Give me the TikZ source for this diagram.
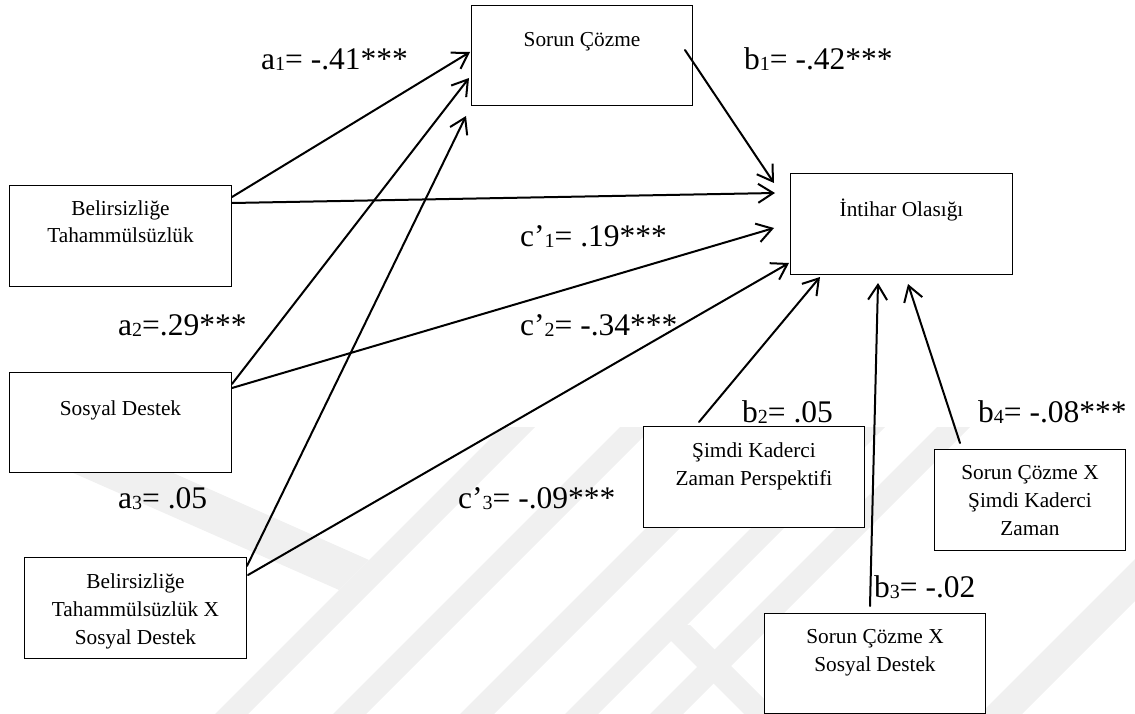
\documentclass[tikz,border=0pt]{standalone}
\usepackage{fontspec}
\setmainfont{Liberation Serif}
\usetikzlibrary{arrows.meta,calc}
% small index digit that sits on the baseline
\newcommand\lowdigit[1]{\raisebox{-1pt}{\fontsize{20}{20}\selectfont #1}}
% centred multi-line text whose baseline is the first line
\newcommand\lines[1]{\begin{tabular}[t]{@{}c@{}}#1\end{tabular}}

\begin{document}
\begin{tikzpicture}[x=1pt,y=-1pt,
  box/.style={draw,line width=1pt,fill=white,inner sep=0pt,anchor=north west},
  boxtext/.style={anchor=base,inner sep=0pt,font=\fontsize{21.3}{28}\selectfont},
  coef/.style={anchor=base west,inner sep=0pt,font=\fontsize{31.5}{32}\selectfont},
  link/.style={line width=2pt,line cap=round,-{Straight Barb[length=15pt,width=19pt]}},
  band/.style={fill=black!6,draw=none}]

\useasboundingbox (0,0) rectangle (1135,714);

% faint background emblem
\begin{scope}
  \clip (0,427) rectangle (1135,714);
  \foreach \x/\w in {215/33,333/33,460/34,565/33,650/33,980/42}
    \fill[band] (\x,714) -- ({\x+\w},714) -- ({\x+\w+300},414) -- ({\x+300},414) -- cycle;
  \fill[band] (71,472) -- (171,472) -- (369,560) -- (339,590) -- cycle;
  \fill[band] (655,625) -- (690,625) -- (779,714) -- (744,714) -- cycle;
\end{scope}

% boxes
\node[box,minimum width=221pt,minimum height=100pt] (SC)   at (471,5)   {};
\node[box,minimum width=222pt,minimum height=101pt] (BT)   at (9,185)   {};
\node[box,minimum width=222pt,minimum height=101pt] (IO)   at (790,173) {};
\node[box,minimum width=222pt,minimum height=100pt] (SD)   at (9,372)   {};
\node[box,minimum width=222pt,minimum height=101pt] (BTX)  at (24,557)  {};
\node[box,minimum width=221pt,minimum height=101pt] (SK)   at (643,426) {};
\node[box,minimum width=191pt,minimum height=101pt] (SCSK) at (934,449) {};
\node[box,minimum width=221pt,minimum height=100pt] (SCSD) at (764,613) {};

% box texts
\node[boxtext] (tSC)   at ($(SC.north)+(0,42)$)   {Sorun Çözme};
\node[boxtext] (tBT)   at ($(BT.north)+(0,30)$)   {\lines{Belirsizliğe\\Tahammülsüzlük}};
\node[boxtext] (tIO)   at ($(IO.north)+(0,44)$)   {İntihar Olasığı};
\node[boxtext] (tSD)   at ($(SD.north)+(0,43)$)   {Sosyal Destek};
\node[boxtext] (tBTX)  at ($(BTX.north)+(0,31)$)  {\lines{Belirsizliğe\\Tahammülsüzlük X\\Sosyal Destek}};
\node[boxtext] (tSK)   at ($(SK.north)+(0,31)$)   {\lines{Şimdi Kaderci\\Zaman Perspektifi}};
\node[boxtext] (tSCSK) at ($(SCSK.north)+(0,30)$) {\lines{Sorun Çözme X\\Şimdi Kaderci\\Zaman}};
\node[boxtext] (tSCSD) at ($(SCSD.north)+(0,30)$) {\lines{Sorun Çözme X\\Sosyal Destek}};

% connector end points
\coordinate (a1s) at ($(BT.north east)+(0,12)$);
\coordinate (c1s) at ($(BT.north east)+(0,18)$);
\coordinate (a2s) at ($(SD.north east)+(0,12)$);
\coordinate (c2s) at ($(SD.north east)+(0,16)$);
\coordinate (a3s) at ($(BTX.north east)+(0,9)$);
\coordinate (c3s) at ($(BTX.north east)+(1,18)$);
\coordinate (b1s) at ($(SC.north east)+(-8,45)$);
\coordinate (b2s) at ($(SK.north west)+(56,-4)$);
\coordinate (b3s) at ($(SCSD.north west)+(106,-7)$);
\coordinate (b4s) at ($(SCSK.north west)+(26,-6)$);

\coordinate (a1e) at ($(SC.north west)+(-1,47)$);
\coordinate (a2e) at ($(SC.north west)+(-2,73)$);
\coordinate (a3e) at ($(SC.south west)+(-5,10)$);
\coordinate (b1e) at ($(IO.north west)+(-16,10)$);
\coordinate (c1e) at ($(IO.north west)+(-15,20)$);
\coordinate (c2e) at ($(IO.north west)+(-16,55)$);
\coordinate (c3e) at ($(IO.south west)+(-1,-12)$);
\coordinate (b2e) at ($(IO.south west)+(30,2)$);
\coordinate (b3e) at ($(IO.south west)+(88,8)$);
\coordinate (b4e) at ($(IO.south west)+(118,9)$);

% paths
\draw[link] (a1s) -- (a1e);
\draw[link] (a2s) -- (a2e);
\draw[link] (a3s) -- (a3e);
\draw[link] (b1s) -- (b1e);
\draw[link] (c1s) -- (c1e);
\draw[link] (c2s) -- (c2e);
\draw[link] (c3s) -- (c3e);
\draw[link] (b2s) -- (b2e);
\draw[link] (b3s) -- (b3e);
\draw[link] (b4s) -- (b4e);

% path coefficients
\node[coef] (la1) at (261,70)  {a\lowdigit{1}= -.41***};
\node[coef] (la2) at (118,335) {a\lowdigit{2}=.29***};
\node[coef] (la3) at (118,508) {a\lowdigit{3}= .05};
\node[coef] (lb1) at (744,70)  {b\lowdigit{1}= -.42***};
\node[coef] (lc1) at (520,247) {c’\lowdigit{1}= .19***};
\node[coef] (lc2) at (520,335) {c’\lowdigit{2}= -.34***};
\node[coef] (lc3) at (458,508) {c’\lowdigit{3}= -.09***};
\node[coef] (lb2) at (742,422) {b\lowdigit{2}= .05};
\node[coef] (lb3) at (874,597) {b\lowdigit{3}= -.02};
\node[coef] (lb4) at (978,422) {b\lowdigit{4}= -.08***};
\end{tikzpicture}
\end{document}
